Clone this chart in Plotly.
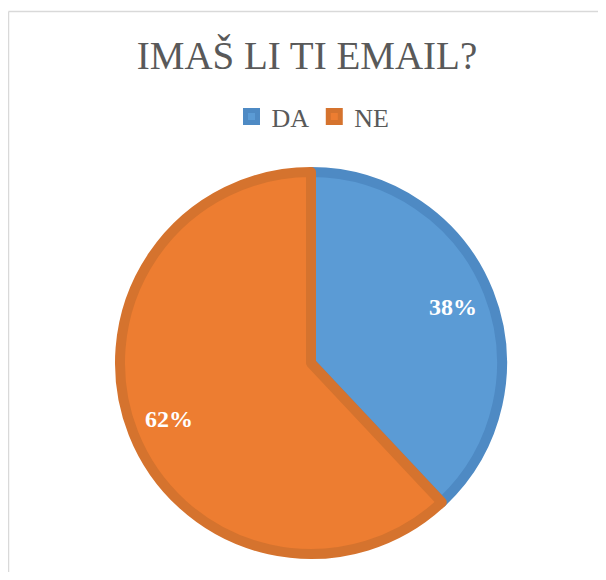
import plotly.graph_objects as go

labels = ["DA", "NE"]
values = [38, 62]
fill_colors = ["#5B9BD5", "#ED7D31"]
edge_colors = ["#4E8AC4", "#D5732E"]
title_text = "IMAŠ LI TI EMAIL?"

SERIF = "Liberation Serif, Times New Roman, serif"

# the page body has an 8px margin, so the figure is drawn 8px in from the window edges
OFF = 8
W, H = 606 - 2 * OFF, 580 - 2 * OFF
cx, cy, R = 311 - OFF, 363 - OFF, 191

dom = dict(x=[(cx - R) / W, (cx + R) / W], y=[(H - cy - R) / H, (H - cy + R) / H])

fig = go.Figure()
fig.add_trace(go.Pie(
    labels=labels,
    values=values,
    sort=False,
    direction="clockwise",
    rotation=0,
    marker=dict(colors=fill_colors, line=dict(color=edge_colors, width=10)),
    textinfo="none",
    domain=dom,
    hoverinfo="label+percent",
))
# transparent ring carrying the percentage labels, so they sit at ~0.8 of the radius
fig.add_trace(go.Pie(
    labels=labels,
    values=values,
    sort=False,
    direction="clockwise",
    rotation=0,
    hole=0.6,
    marker=dict(colors=["rgba(0,0,0,0)", "rgba(0,0,0,0)"], line=dict(width=0)),
    texttemplate="%{percent:.0%}",
    textposition="inside",
    insidetextorientation="horizontal",
    textfont=dict(family=SERIF, size=24, color="white", weight="bold"),
    domain=dom,
    showlegend=False,
    hoverinfo="skip",
))

border = dict(color="#D9D9D9", width=1.5)
fig.update_layout(
    width=W, height=H,
    margin=dict(l=0, r=0, t=0, b=0),
    paper_bgcolor="white",
    plot_bgcolor="white",
    title=dict(text=title_text, x=(307 - OFF) / W, xanchor="center", y=1 - (55 - OFF) / H, yanchor="middle",
               font=dict(family=SERIF, size=39, color="#595959")),
    legend=dict(orientation="h", x=(313 - OFF) / W, xanchor="center", y=1 - (116.5 - OFF) / H, yanchor="middle",
                font=dict(family=SERIF, size=26, color="#595959"),
                itemwidth=30, traceorder="normal"),
    shapes=[
        dict(type="line", xref="paper", yref="paper", x0=0.5 / W, x1=1, y0=1 - 3.5 / H, y1=1 - 3.5 / H,
             line=border, layer="below"),
        dict(type="line", xref="paper", yref="paper", x0=0.5 / W, x1=0.5 / W, y0=0, y1=1 - 3.5 / H,
             line=border, layer="below"),
    ],
)

fig.write_html("out.html")
